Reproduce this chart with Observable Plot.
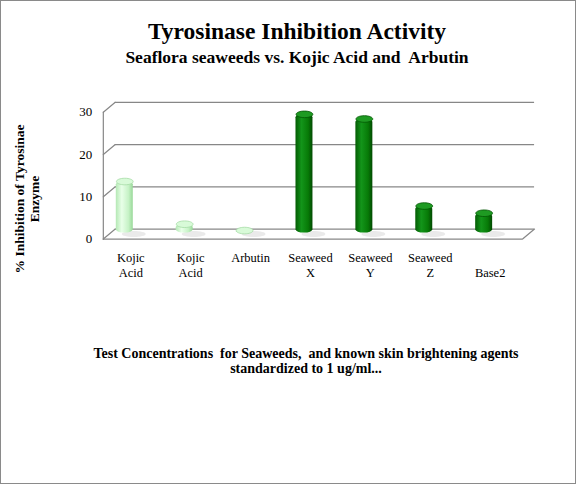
<!DOCTYPE html>
<html>
<head>
<meta charset="utf-8">
<script src="https://cdn.jsdelivr.net/npm/d3@7"></script>
<script src="https://cdn.jsdelivr.net/npm/@observablehq/plot@0.6"></script>
<style>
  body { margin: 0; background: #fff; }
  #page { position: relative; width: 576px; height: 484px; box-sizing: border-box; border: 1px solid #8a8a8a; overflow: hidden; font-family: "Liberation Serif", serif; font-weight: bold; color: #000; }
  #page .t { position: absolute; left: 0; width: 592px; text-align: center; white-space: nowrap; }
  #title { top: 17px; font-size: 23.5px; }
  #subtitle { top: 46px; font-size: 17.5px; }
  #ylab { position: absolute; left: 26px; top: 198px; transform: translate(-50%, -50%) rotate(-90deg); font-size: 13.5px; line-height: 15px; text-align: center; white-space: nowrap; }
  #caption { top: 345px; font-size: 14px; line-height: 15px; width: 610px !important; }
  #chart { position: absolute; left: -1px; top: -1px; font-weight: normal; }
</style>
</head>
<body>
<svg width="0" height="0" style="position:absolute">
  <defs>
    <linearGradient id="gLight" x1="0" x2="1" y1="0" y2="0">
      <stop offset="0" stop-color="#b4e8b4"/>
      <stop offset="0.35" stop-color="#e8ffe8"/>
      <stop offset="0.75" stop-color="#c6f2c6"/>
      <stop offset="1" stop-color="#98d898"/>
    </linearGradient>
    <linearGradient id="gDark" x1="0" x2="1" y1="0" y2="0">
      <stop offset="0" stop-color="#045c04"/>
      <stop offset="0.35" stop-color="#13951a"/>
      <stop offset="0.75" stop-color="#077a07"/>
      <stop offset="1" stop-color="#024a02"/>
    </linearGradient>
  </defs>
</svg>
<div id="page">
  <div class="t" id="title">Tyrosinase Inhibition Activity</div>
  <div class="t" id="subtitle">Seaflora seaweeds vs. Kojic Acid and&nbsp; Arbutin</div>
  <div id="ylab">% Inhibition of Tyrosinae<br>Enzyme</div>
  <div class="t" id="caption">Test Concentrations&nbsp; for Seaweeds,&nbsp; and known skin brightening agents<br>standardized to 1 ug/ml...</div>
  <div id="chart"></div>
</div>
<script>
// samples, in chart order
const keys = ["kojic1", "kojic2", "arbutin", "swX", "swY", "swZ", "base2"];
const labels = ["Kojic\nAcid", "Kojic\nAcid", "Arbutin", "Seaweed\nX", "Seaweed\nY", "Seaweed\nZ", "\nBase2"];
const inhibition = [12.2, 2.1, 0.6, 28.1, 27.0, 6.4, 4.7];
const groups = ["reference", "reference", "reference", "seaweed", "seaweed", "seaweed", "seaweed"];
const yTicks = [0, 10, 20, 30];

const data = keys.map((k, i) => ({key: k, label: labels[i], value: inhibition[i], group: groups[i]}));
const labelOf = new Map(keys.map((k, i) => [k, labels[i]]));

// ellipse used for the cylinder caps
const K = 0.5523;
const ellipse = (rx, ry) => ({
  draw(ctx) {
    ctx.moveTo(rx, 0);
    ctx.bezierCurveTo(rx, K * ry, K * rx, ry, 0, ry);
    ctx.bezierCurveTo(-K * rx, ry, -rx, K * ry, -rx, 0);
    ctx.bezierCurveTo(-rx, -K * ry, -K * rx, -ry, 0, -ry);
    ctx.bezierCurveTo(K * rx, -ry, rx, -K * ry, rx, 0);
    ctx.closePath();
  }
});
const stick = {draw(ctx, l) { ctx.moveTo(0, 0); ctx.lineTo(0, -l); }};

const grid = "#878787";

const chart = Plot.plot({
  width: 576,
  height: 484,
  marginTop: 112,
  marginBottom: 245,
  marginLeft: 103,
  marginRight: 53,
  style: {fontFamily: "Liberation Serif, serif", fontSize: "13px", background: "transparent", overflow: "visible", color: "#000"},
  x: {domain: keys, range: [94, 514], paddingInner: 0.72, paddingOuter: 0.35, axis: null},
  y: {domain: [0, 30], axis: null},
  marks: [
    // back wall + floor
    Plot.ruleY(yTicks, {dx: 12, dy: -10, stroke: grid, strokeWidth: 1.2}),
    Plot.vector(yTicks, {y: d => d, frameAnchor: "left", rotate: 50, length: 15.6, anchor: "start", stroke: grid, strokeWidth: 1.2, shape: stick}),
    Plot.vector([0], {y: d => d, frameAnchor: "right", rotate: 50, length: 15.6, anchor: "start", stroke: grid, strokeWidth: 1.2, shape: stick}),
    Plot.ruleY([0], {stroke: grid, strokeWidth: 1.2}),
    Plot.frame({anchor: "left", stroke: grid, strokeWidth: 1.2}),
    // shadows on the floor
    Plot.dot(data, {x: "key", y: () => 0, dy: -5, dx: 9, symbol: ellipse(12, 3), fill: "#a0a0a0", fillOpacity: 0.22, r: 1}),
    // cylinders
    Plot.barY(data, {x: "key", y: "value", dy: -6, rx: 8.4, ry: 3.3,
      fill: d => d.group === "reference" ? "url(#gLight)" : "url(#gDark)"}),
    Plot.dot(data, {x: "key", y: "value", dy: -6, symbol: ellipse(8.4, 3.3), r: 1,
      fill: d => d.group === "reference" ? "#d8fad8" : "#1e9a22",
      stroke: d => d.group === "reference" ? "#a6dca6" : "#035503", strokeWidth: 0.8}),
    Plot.axisY({ticks: yTicks, label: null, tickSize: 0, tickPadding: 11, fontSize: 13, fill: "#000"}),
    Plot.axisX({label: null, tickSize: 0, tickPadding: 12, dx: 6, fontSize: 12.5, lineHeight: 1.2, tickFormat: k => labelOf.get(k), fill: "#000"})
  ]
});

d3.select("#chart").append(() => chart);
</script>
</body>
</html>
